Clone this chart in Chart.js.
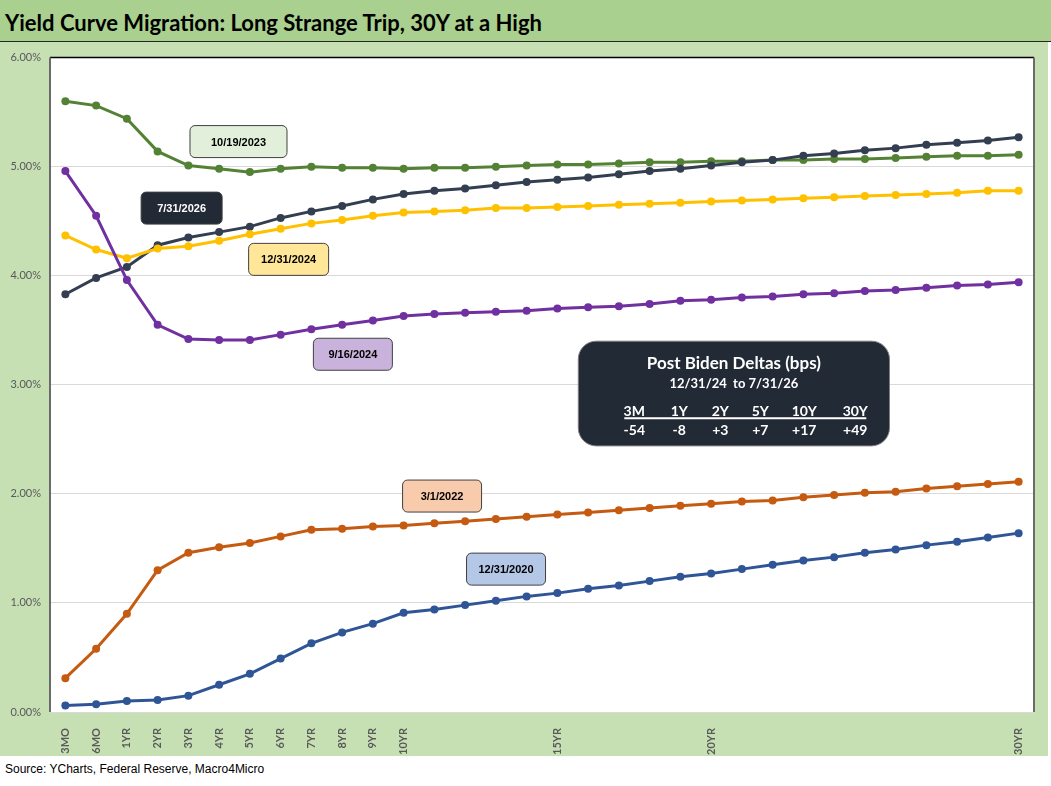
<!DOCTYPE html>
<html>
<head>
<meta charset="utf-8">
<title>Yield Curve Migration</title>
<script src="https://cdn.jsdelivr.net/npm/chart.js@4.4.1/dist/chart.umd.min.js"></script>
<style>
  body { margin: 0; width: 1051px; height: 786px; background: #fff; position: relative; overflow: hidden; }
  #titlebar { position: absolute; left: 0; top: 0; width: 1051px; height: 41px; background: #a9d08e; border-bottom: 1px solid #262626; }
  #titlebar h1 { position: absolute; left: 5px; top: 9px; margin: 0; font: bold 22px Lato, sans-serif; color: #000; white-space: nowrap; }
  #chartbox { position: absolute; left: 0; top: 42px; width: 1048px; height: 714px; background: #c6e0b4; }
  #source { position: absolute; left: 5px; top: 762px; font: 12px Arial, "Liberation Sans", sans-serif; color: #000; }
</style>
</head>
<body>
<div id="titlebar"><h1>Yield Curve Migration: Long Strange Trip, 30Y at a High</h1></div>
<div id="chartbox"><canvas id="curveChart" width="1048" height="714"></canvas></div>
<div id="source">Source: YCharts, Federal Reserve, Macro4Micro</div>

<script>
// Tenors on the x axis (only some of them get a visible label)
const tenors = ['3MO', '6MO', '1YR', '2YR', '3YR', '4YR', '5YR', '6YR', '7YR', '8YR', '9YR', '10YR',
    '11YR', '12YR', '13YR', '14YR', '15YR', '16YR', '17YR', '18YR', '19YR', '20YR',
    '21YR', '22YR', '23YR', '24YR', '25YR', '26YR', '27YR', '28YR', '29YR', '30YR'];
const shownTenors = ['3MO', '6MO', '1YR', '2YR', '3YR', '4YR', '5YR', '6YR', '7YR', '8YR', '9YR', '10YR', '15YR', '20YR', '30YR'];

// Yield curves (%)
const curve20201231 = [0.06, 0.07, 0.10, 0.11, 0.15, 0.25, 0.35, 0.49, 0.63, 0.73, 0.81, 0.91,
    0.94, 0.98, 1.02, 1.06, 1.09, 1.13, 1.16, 1.20, 1.24, 1.27, 1.31, 1.35, 1.39, 1.42, 1.46, 1.49, 1.53, 1.56, 1.60, 1.64];
const curve20220301 = [0.31, 0.58, 0.90, 1.30, 1.46, 1.51, 1.55, 1.61, 1.67, 1.68, 1.70, 1.71,
    1.73, 1.75, 1.77, 1.79, 1.81, 1.83, 1.85, 1.87, 1.89, 1.91, 1.93, 1.94, 1.97, 1.99, 2.01, 2.02, 2.05, 2.07, 2.09, 2.11];
const curve20231019 = [5.60, 5.56, 5.44, 5.14, 5.01, 4.98, 4.95, 4.98, 5.00, 4.99, 4.99, 4.98,
    4.99, 4.99, 5.00, 5.01, 5.02, 5.02, 5.03, 5.04, 5.04, 5.05, 5.05, 5.06, 5.06, 5.07, 5.07, 5.08, 5.09, 5.10, 5.10, 5.11];
const curve20240916 = [4.96, 4.55, 3.96, 3.55, 3.42, 3.41, 3.41, 3.46, 3.51, 3.55, 3.59, 3.63,
    3.65, 3.66, 3.67, 3.68, 3.70, 3.71, 3.72, 3.74, 3.77, 3.78, 3.80, 3.81, 3.83, 3.84, 3.86, 3.87, 3.89, 3.91, 3.92, 3.94];
const curve20241231 = [4.37, 4.24, 4.16, 4.25, 4.27, 4.32, 4.38, 4.43, 4.48, 4.51, 4.55, 4.58,
    4.59, 4.60, 4.62, 4.62, 4.63, 4.64, 4.65, 4.66, 4.67, 4.68, 4.69, 4.70, 4.71, 4.72, 4.73, 4.74, 4.75, 4.76, 4.78, 4.78];
const curve20260731 = [3.83, 3.98, 4.08, 4.28, 4.35, 4.40, 4.45, 4.53, 4.59, 4.64, 4.70, 4.75,
    4.78, 4.80, 4.83, 4.86, 4.88, 4.90, 4.93, 4.96, 4.98, 5.01, 5.04, 5.06, 5.10, 5.12, 5.15, 5.17, 5.20, 5.22, 5.24, 5.27];

// Delta table (bps)
const deltaTenors = ['3M', '1Y', '2Y', '5Y', '10Y', '30Y'];
const deltaValues = ['-54', '-8', '+3', '+7', '+17', '+49'];

// Y axis
const yMin = 0;
const yMax = 6;
const yStep = 1;

// Date call-outs, anchored in data space (category index, yield)
const callouts = [
    { text: '10/19/2023', idx: 5.63, val: 5.23, w: 97, fill: '#e2efda', color: '#000' },
    { text: '7/31/2026', idx: 3.78, val: 4.62, w: 81, fill: '#222a35', color: '#fff' },
    { text: '12/31/2024', idx: 7.26, val: 4.15, w: 80, fill: '#ffe699', color: '#000' },
    { text: '9/16/2024', idx: 9.35, val: 3.28, w: 79, fill: '#c9b3dd', color: '#000' },
    { text: '3/1/2022', idx: 12.25, val: 1.98, w: 79, fill: '#f8cbad', color: '#000' },
    { text: '12/31/2020', idx: 14.33, val: 1.31, w: 79, fill: '#b4c7e7', color: '#000' }
];
// Delta box corners in data space, and column centres (px from the box's left edge)
const deltaBox = { idxL: 16.68, idxR: 26.8, valTop: 3.40, valBottom: 2.44 };
const deltaColX = [56, 101, 142, 182, 226, 277];

function roundRect(ctx, x, y, w, h, r) {
    ctx.beginPath();
    ctx.moveTo(x + r, y);
    ctx.arcTo(x + w, y, x + w, y + h, r);
    ctx.arcTo(x + w, y + h, x, y + h, r);
    ctx.arcTo(x, y + h, x, y, r);
    ctx.arcTo(x, y, x + w, y, r);
    ctx.closePath();
}

const plotDecor = {
    id: 'plotDecor',
    beforeDraw(chart) {
        const { ctx, chartArea: a } = chart;
        ctx.save();
        ctx.fillStyle = '#ffffff';
        ctx.fillRect(a.left, a.top, a.right - a.left, a.bottom - a.top);
        ctx.restore();
    },
    afterDraw(chart) {
        const { ctx, chartArea: a } = chart;
        const xs = chart.scales.x, ys = chart.scales.y;
        ctx.save();

        // frame: top, left, right
        ctx.lineWidth = 1.5;
        ctx.strokeStyle = '#000';
        ctx.beginPath();
        ctx.moveTo(a.left, a.top);
        ctx.lineTo(a.right, a.top);
        ctx.stroke();
        ctx.strokeStyle = '#6b6b6b';
        ctx.lineWidth = 2;
        ctx.beginPath();
        ctx.moveTo(a.left, a.top);
        ctx.lineTo(a.left, a.bottom);
        ctx.moveTo(a.right, a.top);
        ctx.lineTo(a.right, a.bottom);
        ctx.stroke();

        // date call-outs
        callouts.forEach(c => {
            const cx = xs.getPixelForValue(c.idx);
            const cy = ys.getPixelForValue(c.val);
            const h = 32;
            roundRect(ctx, cx - c.w / 2, cy - h / 2, c.w, h, 5);
            ctx.fillStyle = c.fill;
            ctx.fill();
            ctx.lineWidth = 1;
            ctx.strokeStyle = '#404040';
            ctx.stroke();
            ctx.fillStyle = c.color;
            ctx.font = 'bold 11px Arial, "Liberation Sans", sans-serif';
            ctx.textAlign = 'center';
            ctx.textBaseline = 'middle';
            ctx.fillText(c.text, cx, cy + 1);
        });

        // delta box
        const bl = xs.getPixelForValue(deltaBox.idxL);
        const br = xs.getPixelForValue(deltaBox.idxR);
        const bt = ys.getPixelForValue(deltaBox.valTop);
        const bb = ys.getPixelForValue(deltaBox.valBottom);
        roundRect(ctx, bl, bt, br - bl, bb - bt, 18);
        ctx.fillStyle = '#222a35';
        ctx.fill();
        ctx.lineWidth = 1;
        ctx.strokeStyle = '#7f7f7f';
        ctx.stroke();

        const mid = (bl + br) / 2;
        ctx.fillStyle = '#fff';
        ctx.textAlign = 'center';
        ctx.textBaseline = 'middle';
        ctx.font = 'bold 17px Lato, sans-serif';
        ctx.fillText('Post Biden Deltas (bps)', mid, bt + 22);
        ctx.font = 'bold 13px Lato, sans-serif';
        ctx.fillText('12/31/24  to 7/31/26', mid, bt + 43);

        ctx.font = 'bold 14px Lato, sans-serif';
        deltaTenors.forEach((t, i) => {
            const x = bl + deltaColX[i];
            ctx.fillText(t, x, bt + 70);
            ctx.fillText(deltaValues[i], x, bt + 89);
        });
        ctx.strokeStyle = '#fff';
        ctx.lineWidth = 2;
        ctx.beginPath();
        ctx.moveTo(bl + 46, bt + 77);
        ctx.lineTo(bl + 288, bt + 77);
        ctx.stroke();

        ctx.restore();
    }
};

function series(label, data, color) {
    return {
        label: label,
        data: data,
        borderColor: color,
        backgroundColor: color,
        pointBackgroundColor: color,
        pointBorderColor: color,
        borderWidth: 3,
        pointRadius: 4,
        pointBorderWidth: 0,
        tension: 0
    };
}

const chartEl = document.getElementById('curveChart');
const curveChart = new Chart(chartEl, {
    type: 'line',
    data: {
        labels: tenors,
        datasets: [
            series('12/31/2020', curve20201231, '#2f5597'),
            series('3/1/2022', curve20220301, '#c55a11'),
            series('9/16/2024', curve20240916, '#7030a0'),
            series('12/31/2024', curve20241231, '#ffc000'),
            series('7/31/2026', curve20260731, '#333f50'),
            series('10/19/2023', curve20231019, '#548235')
        ]
    },
    options: {
        responsive: false,
        animation: false,
        layout: { padding: { top: 14, right: 14, left: 0, bottom: 0 } },
        plugins: {
            legend: { display: false },
            tooltip: { enabled: false }
        },
        scales: {
            x: {
                offset: true,
                grid: { display: false },
                border: { display: false },
                afterFit(scale) { scale.height = 44; },
                ticks: {
                    autoSkip: false,
                    minRotation: 90,
                    maxRotation: 90,
                    padding: 8,
                    color: '#595959',
                    font: { family: 'Lato', size: 11, weight: 'bold' },
                    callback: function(value) {
                        const t = tenors[value];
                        return shownTenors.includes(t) ? t : '';
                    }
                }
            },
            y: {
                min: yMin,
                max: yMax,
                grid: { color: '#d9d9d9', drawTicks: false },
                border: { display: false },
                afterFit(scale) { scale.width = 50; },
                ticks: {
                    stepSize: yStep,
                    padding: 9,
                    color: '#595959',
                    font: { family: 'Lato', size: 11 },
                    callback: v => v.toFixed(2) + '%'
                }
            }
        }
    },
    plugins: [plotDecor]
});
</script>
</body>
</html>
